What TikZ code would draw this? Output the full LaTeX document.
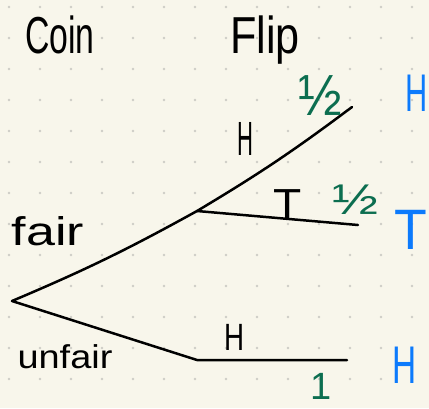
\documentclass[tikz,border=0pt]{standalone}
\usepackage{fontspec}
\setmainfont{Liberation Sans}
\usepackage{graphicx}
\definecolor{paper}{RGB}{248,246,235}
\definecolor{dotgray}{RGB}{206,205,198}
\definecolor{penblue}{RGB}{12,122,252}
\definecolor{pengreen}{RGB}{12,110,80}
\newcommand{\hw}[2]{\scalebox{#1}[1]{#2}}
\newcommand{\fs}[1]{\fontsize{#1}{#1}\selectfont}

\begin{document}
\begin{tikzpicture}[x=1pt,y=-1pt,
    branch/.style={line width=2.5pt, line cap=round, line join=round},
    lbl/.style={inner sep=0pt, anchor=base},
    outcome/.style={lbl, text=penblue},
    prob/.style={lbl, text=pengreen}]
        \useasboundingbox (0,0) rectangle (429,408);
        \fill[paper] (0,0) rectangle (429,408);
        \foreach \i in {0,...,13}
          \foreach \j in {0,...,12}
            \fill[dotgray] (9+31*\i, 7+31*\j) circle (1.3pt);
        \coordinate (root) at (12,301);
        \coordinate (fair) at (197,211);
        \coordinate (fairH) at (352,107);
        \coordinate (fairT) at (358,225);
        \coordinate (unfair) at (197,360);
        \coordinate (unfairH) at (347,360);
        \draw[branch] (root) to[bend right=3] (fair) to[bend right=3] (fairH);
        \draw[branch] (fair) -- (fairT);
        \draw[branch] (root) -- (unfair) -- (unfairH);
        \node[lbl, font=\fs{52}] (coin) at (60,53) {\hw{0.65}{Coin}};
        \node[lbl, font=\fs{52}] (flip) at (265,53) {\hw{0.83}{Flip}};
        \node[lbl, font=\fs{40}] (fairlbl) at (48,245) {\hw{1.3}{fair}};
        \node[lbl, font=\fs{33}] (unfairlbl) at (65,368) {\hw{1.15}{unfair}};
        \node[lbl, font=\fs{48}] (hup) at (245,155) {\hw{0.46}{H}};
        \node[lbl, font=\fs{42}] (tmid) at (288,218) {\hw{1.1}{T}};
        \node[lbl, font=\fs{38}] (hlow) at (235,350) {\hw{0.73}{H}};
        \node[prob, font=\fs{58}] (pup) at (320,115) {\hw{0.9}{½}};
        \node[prob, font=\fs{43}] (pmid) at (355,214) {\hw{1.28}{½}};
        \node[prob, font=\fs{38}] (plow) at (321,399) {\hw{1.0}{1}};
        \node[outcome, font=\fs{53}] (oup) at (417,111) {\hw{0.58}{H}};
        \node[outcome, font=\fs{57}] (omid) at (411,249) {\hw{0.94}{T}};
        \node[outcome, font=\fs{53}] (olow) at (405,383) {\hw{0.63}{H}};
      \end{tikzpicture}
\end{document}
